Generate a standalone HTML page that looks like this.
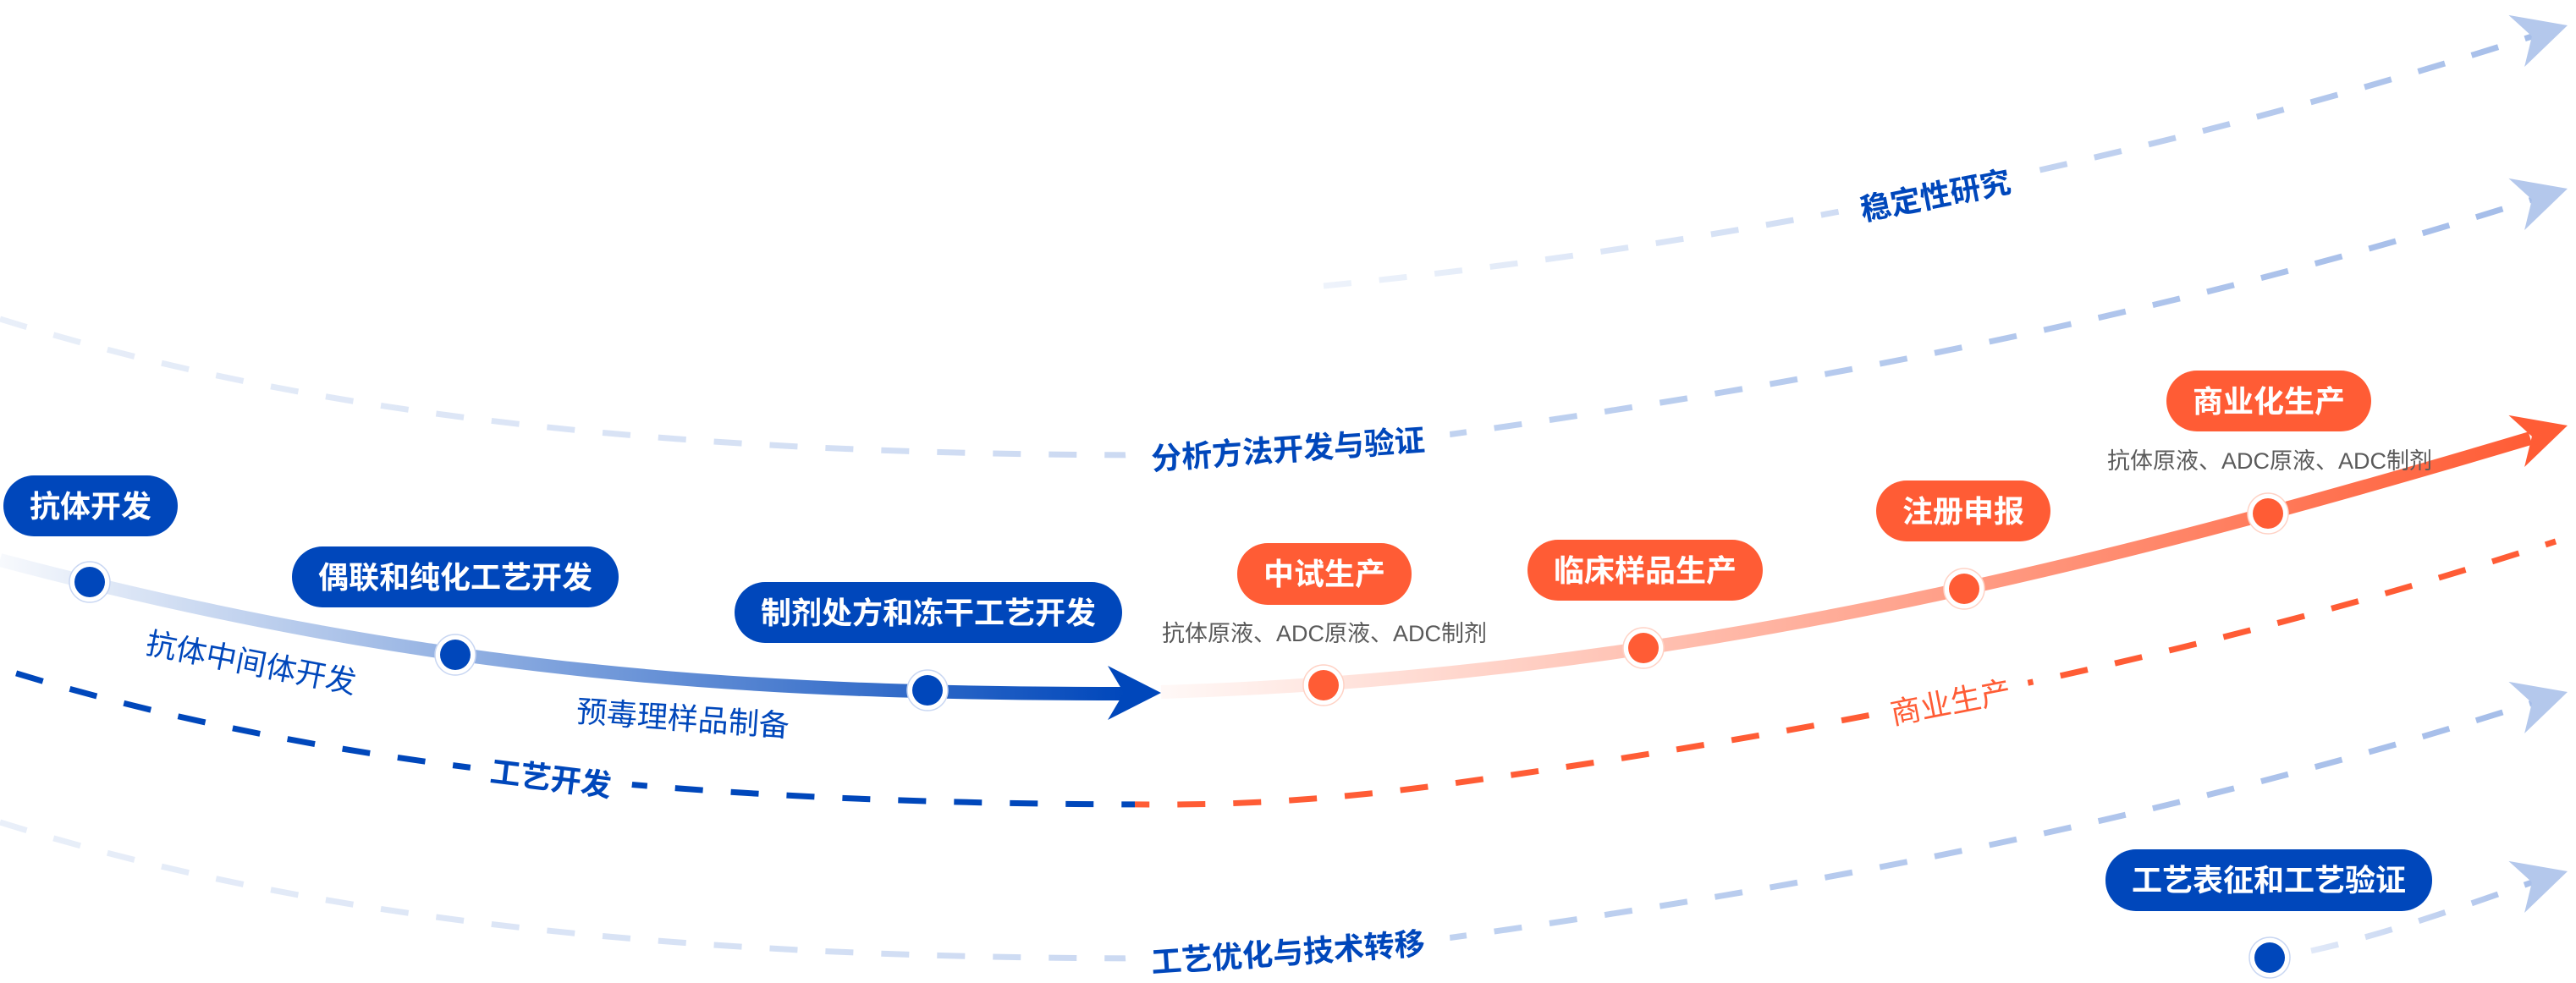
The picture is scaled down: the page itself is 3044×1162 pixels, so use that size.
<!DOCTYPE html>
<html>
<head>
<meta charset="utf-8">
<style>
html,body{margin:0;padding:0;background:#fff;width:3044px;height:1162px;overflow:hidden}
svg{display:block}
</style>
</head>
<body>
<svg width="3044" height="1162" viewBox="0 0 3044 1162" xmlns="http://www.w3.org/2000/svg" font-family="'Liberation Sans','Noto Sans CJK SC',sans-serif">
<defs>
  <linearGradient id="gBlueLine" gradientUnits="userSpaceOnUse" x1="0" y1="0" x2="1330" y2="0">
    <stop offset="0" stop-color="#0047BB" stop-opacity="0.03"/>
    <stop offset="1" stop-color="#0047BB" stop-opacity="1"/>
  </linearGradient>
  <linearGradient id="gOrangeLine" gradientUnits="userSpaceOnUse" x1="1372" y1="0" x2="2995" y2="0">
    <stop offset="0" stop-color="#FF5C35" stop-opacity="0.04"/>
    <stop offset="1" stop-color="#FF5C35" stop-opacity="1"/>
  </linearGradient>
  <linearGradient id="gDash" gradientUnits="userSpaceOnUse" x1="0" y1="0" x2="2992" y2="0">
    <stop offset="0" stop-color="#e9eff9"/>
    <stop offset="0.45" stop-color="#cbd9f2"/>
    <stop offset="0.57" stop-color="#c0d2f0"/>
    <stop offset="1" stop-color="#a5bde9"/>
  </linearGradient>
  <linearGradient id="gDashTop" gradientUnits="userSpaceOnUse" x1="1564" y1="0" x2="2992" y2="0">
    <stop offset="0" stop-color="#eef3fb"/>
    <stop offset="1" stop-color="#a6bee9"/>
  </linearGradient>
  <linearGradient id="gDashSmall" gradientUnits="userSpaceOnUse" x1="2731" y1="0" x2="2992" y2="0">
    <stop offset="0" stop-color="#e1e9f8"/>
    <stop offset="1" stop-color="#a9c0ea"/>
  </linearGradient>
  <clipPath id="cBlue"><rect x="0" y="0" width="1341" height="1162"/></clipPath>
  <clipPath id="cOrange"><rect x="1341" y="0" width="1703" height="1162"/></clipPath>
</defs>

<!-- dashed curves -->
<g fill="none" stroke-width="7" stroke-dasharray="33 33">
  <path d="M1564,338 C2040,290 2516,195 2992,43" stroke="url(#gDashTop)"/>
  <path d="M0,377 C400,502 850,538 1380,538 C1492,538 1605,528.7 1717,513 C2142,453.5 2567,372 2992,236" stroke="url(#gDash)"/>
  <path d="M0,972 C400,1097 850,1133 1380,1133 C1492,1133 1605,1123.7 1717,1108 C2142,1048.5 2567,967 2992,831" stroke="url(#gDash)"/>
  <path d="M0,790 C400,915 850,951 1380,951 C1492,951 1605,941.7 1717,926 C2142,866.5 2567,785 2992,649 L3020,640" stroke="#0047BB" stroke-dashoffset="46" clip-path="url(#cBlue)"/>
  <path d="M0,790 C400,915 850,951 1380,951 C1492,951 1605,941.7 1717,926 C2142,866.5 2567,785 2992,649 L3020,640" stroke="#FF5C35" stroke-dashoffset="46" clip-path="url(#cOrange)"/>
  <path d="M2731,1124 C2820,1104 2900,1075 2992,1043" stroke="url(#gDashSmall)"/>
</g>

<!-- light arrowheads -->
<g fill="#b4c8ec">
  <path d="M0,0 L-63,-32 L-44,0 L-63,32 Z" transform="translate(3034,30) rotate(-17)"/>
  <path d="M0,0 L-63,-32 L-44,0 L-63,32 Z" transform="translate(3034,223) rotate(-17)"/>
  <path d="M0,0 L-63,-32 L-44,0 L-63,32 Z" transform="translate(3034,818) rotate(-17)"/>
  <path d="M0,0 L-63,-32 L-44,0 L-63,32 Z" transform="translate(3034,1030) rotate(-17)"/>
</g>

<!-- labels on dashed curves (with white gaps) -->
<g font-size="36">
  <g transform="translate(2287,231) rotate(-11)">
    <rect x="-116" y="-26" width="232" height="52" fill="#fff"/>
    <text x="0" y="13" text-anchor="middle" font-weight="700" fill="#0047BB">稳定性研究</text>
  </g>
  <g transform="translate(1522,531) rotate(-4)">
    <rect x="-192" y="-26" width="384" height="52" fill="#fff"/>
    <text x="0" y="13" text-anchor="middle" font-weight="700" fill="#0047BB">分析方法开发与验证</text>
  </g>
  <g transform="translate(1522,1126) rotate(-4)">
    <rect x="-192" y="-26" width="384" height="52" fill="#fff"/>
    <text x="0" y="13" text-anchor="middle" font-weight="700" fill="#0047BB">工艺优化与技术转移</text>
  </g>
  <g transform="translate(651,920) rotate(7)">
    <rect x="-96" y="-26" width="192" height="52" fill="#fff"/>
    <text x="0" y="13" text-anchor="middle" font-weight="700" fill="#0047BB">工艺开发</text>
  </g>
  <g transform="translate(2305,830) rotate(-11)">
    <rect x="-94" y="-26" width="188" height="52" fill="#fff"/>
    <text x="0" y="13" text-anchor="middle" font-weight="400" fill="#FF5C35">商业生产</text>
  </g>
  <g transform="translate(297,783) rotate(11)">
    <text x="0" y="13" text-anchor="middle" font-weight="400" fill="#0047BB">抗体中间体开发</text>
  </g>
  <g transform="translate(807,849) rotate(4)">
    <text x="0" y="13" text-anchor="middle" font-weight="400" fill="#0047BB">预毒理样品制备</text>
  </g>
</g>

<!-- solid main lines -->
<path d="M0,662 C520,800 900,820 1330,820" fill="none" stroke="url(#gBlueLine)" stroke-width="16"/>
<path d="M1372,818 C1972,800 2488,668 2990,518" fill="none" stroke="url(#gOrangeLine)" stroke-width="16"/>
<path d="M0,0 L-63,-32 L-44,0 L-63,32 Z" transform="translate(1372,819)" fill="#0047BB"/>
<path d="M0,0 L-63,-32 L-44,0 L-63,32 Z" transform="translate(3034,503) rotate(-17)" fill="#FF5C35"/>

<!-- dots -->
<g>
  <g fill="#fff" stroke="#c8d6f2" stroke-width="1.5">
    <circle cx="106" cy="688" r="24"/>
    <circle cx="538" cy="774" r="24"/>
    <circle cx="1096" cy="816" r="24"/>
    <circle cx="2682" cy="1132" r="24"/>
  </g>
  <g fill="#0047BB">
    <circle cx="106" cy="688" r="18"/>
    <circle cx="538" cy="774" r="18"/>
    <circle cx="1096" cy="816" r="18"/>
    <circle cx="2682" cy="1132" r="18"/>
  </g>
  <g fill="#fff" stroke="#ffd2c5" stroke-width="1.5">
    <circle cx="1564" cy="810" r="24"/>
    <circle cx="1942" cy="766" r="24"/>
    <circle cx="2321" cy="696" r="24"/>
    <circle cx="2680" cy="607" r="24"/>
  </g>
  <g fill="#FF5C35">
    <circle cx="1564" cy="810" r="18"/>
    <circle cx="1942" cy="766" r="18"/>
    <circle cx="2321" cy="696" r="18"/>
    <circle cx="2680" cy="607" r="18"/>
  </g>
</g>

<!-- pills -->
<g>
  <rect x="4" y="562" width="206" height="72" rx="36" fill="#0047BB"/>
  <rect x="345" y="646" width="386" height="72" rx="36" fill="#0047BB"/>
  <rect x="868" y="688" width="458" height="72" rx="36" fill="#0047BB"/>
  <rect x="2488" y="1004" width="386" height="73" rx="36" fill="#0047BB"/>
  <rect x="1462" y="642" width="206" height="73" rx="36" fill="#FF5C35"/>
  <rect x="1805" y="638" width="278" height="72" rx="36" fill="#FF5C35"/>
  <rect x="2217" y="568" width="206" height="72" rx="36" fill="#FF5C35"/>
  <rect x="2560" y="438" width="242" height="72" rx="36" fill="#FF5C35"/>
</g>
<g font-size="36" font-weight="700" fill="#fff" text-anchor="middle">
  <text x="107" y="611">抗体开发</text>
  <text x="538" y="695">偶联和纯化工艺开发</text>
  <text x="1097" y="737">制剂处方和冻干工艺开发</text>
  <text x="2681" y="1053">工艺表征和工艺验证</text>
  <text x="1565" y="691">中试生产</text>
  <text x="1944" y="687">临床样品生产</text>
  <text x="2320" y="617">注册申报</text>
  <text x="2681" y="487">商业化生产</text>
</g>
<g font-size="27" font-weight="400" fill="#5a5a5a" text-anchor="middle">
  <text x="1565" y="758">抗体原液、ADC原液、ADC制剂</text>
  <text x="2682" y="554">抗体原液、ADC原液、ADC制剂</text>
</g>
</svg>
</body>
</html>
